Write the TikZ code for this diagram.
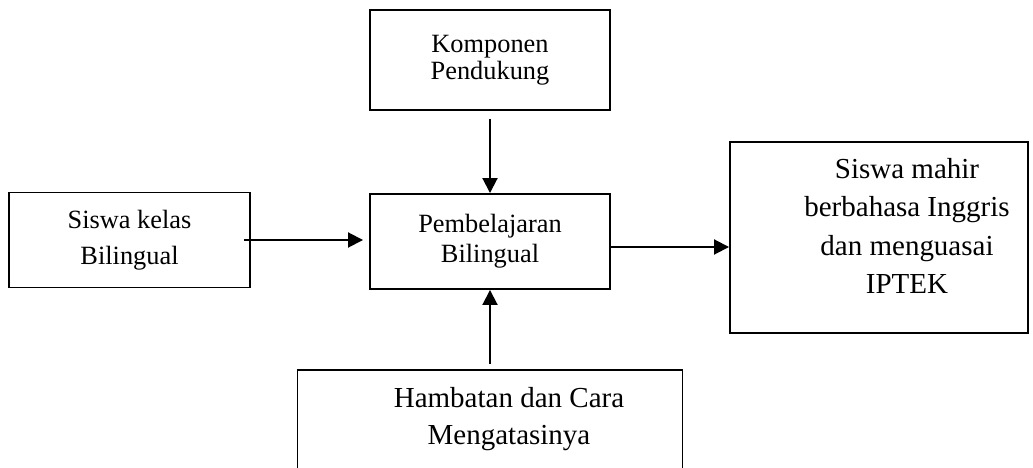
\documentclass[tikz,border=0pt]{standalone}
\usepackage{fontspec}
\setmainfont{Liberation Serif}
\usetikzlibrary{arrows.meta}
\newcommand{\hurufkecil}[1]{\fontsize{15pt}{#1}\selectfont}
\newcommand{\hurufbesar}[1]{\fontsize{16.5pt}{#1}\selectfont}

\begin{document}
\begin{tikzpicture}[
		kotak/.style={draw, line width=1.1pt, inner sep=0pt},
		teks/.style={align=center, inner sep=0pt},
		panah/.style={line width=1.1pt, -{Triangle[length=0.3cm,width=0.3cm]}}
	]
		\useasboundingbox (0,0) rectangle (20.66,-9.36);
		\begin{scope}
			% kotak-kotak
			\node[kotak, teks, minimum width=4.8cm, minimum height=2cm, font=\hurufkecil{15.5pt}] (komp) at (9.8,-1.2) {Komponen\\Pendukung};
			\node[kotak, teks, minimum width=4.82cm, minimum height=1.9cm, font=\hurufkecil{20.5pt}] (siswa) at (2.59,-4.8) {Siswa kelas\\Bilingual};
			\node[kotak, teks, minimum width=4.8cm, minimum height=1.9cm, font=\hurufkecil{17pt}] (pemb) at (9.8,-4.83) {Pembelajaran\\Bilingual};
			\node[kotak, minimum width=5.96cm, minimum height=3.82cm] (mahir) at (17.58,-4.75) {};
			\node[kotak, minimum width=7.7cm, minimum height=2.4cm] (hamb) at (9.8,-8.6) {};
		
			\node[teks, font=\hurufbesar{21.8pt}] (mahirteks) at (18.14,-4.52) {Siswa mahir\\berbahasa Inggris\\dan menguasai\\IPTEK};
			\node[teks, font=\hurufbesar{21pt}] (hambteks) at (10.18,-8.38) {Hambatan dan Cara\\Mengatasinya};
		
			% panah
			\coordinate (m) at ([yshift=-0.11cm]pemb.east);
			\draw[panah, shorten <=0.16cm] (komp) -- (pemb);
			\draw[panah, shorten <=-0.14cm, shorten >=0.12cm] (siswa.east) -- (siswa.east -| pemb.west);
			\draw[panah] (m) -- (m -| mahir.west);
			\draw[panah, shorten <=0.1cm] (hamb) -- (pemb);
		\end{scope}
	\end{tikzpicture}
\end{document}
